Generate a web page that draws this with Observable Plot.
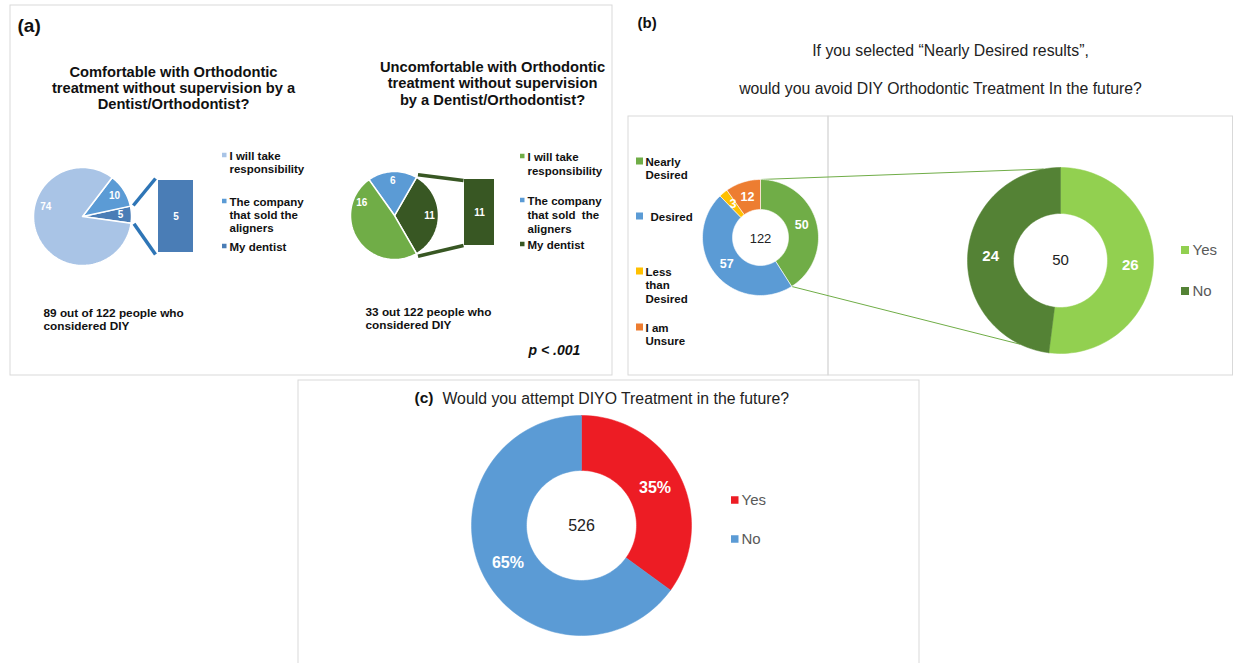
<!DOCTYPE html>
<html><head><meta charset="utf-8">
<script src="https://cdn.jsdelivr.net/npm/d3@7"></script>
<script src="https://cdn.jsdelivr.net/npm/@observablehq/plot@0.6"></script>
<style>body{margin:0;background:#fff;} svg{display:block}</style>
</head><body><div id="chart"></div>
<script>
// ---------- DATA ----------
const aCategories = ["I will take responsibility", "The company that sold the aligners", "My dentist"];
const aLegend1 = ["I will take\nresponsibility", "The company\nthat sold the\naligners", "My dentist"];
const aLegend2 = ["I will take\nresponsibility", "The company\nthat sold  the\naligners", "My dentist"];
const comfortableValues = [74, 10, 5];
const uncomfortableValues = [16, 6, 11];
const comfortableBar = [5];
const uncomfortableBar = [11];
const aTitle1 = "Comfortable with Orthodontic\ntreatment without supervision by a\nDentist/Orthodontist?";
const aTitle2 = "Uncomfortable with Orthodontic\ntreatment without supervision\nby a Dentist/Orthodontist?";
const aNote1 = "89 out of 122 people who\nconsidered DIY";
const aNote2 = "33 out 122 people who\nconsidered DIY";
const pText = "p < .001";

const bTitle = ["If you selected \u201CNearly Desired results\u201D,", "would you avoid DIY Orthodontic Treatment In the future?"];
const bCategories = ["Nearly\nDesired", "Desired", "Less\nthan\nDesired", "I am\nUnsure"];
const bValues = [50, 57, 3, 12];
const bTotal = 122;
const bSubCategories = ["Yes", "No"];
const bSubValues = [26, 24];
const bSubTotal = 50;

const cTitle = "Would you attempt DIYO Treatment in the future?";
const cCategories = ["Yes", "No"];
const cPercents = [35, 65];
const cTotal = 526;

// ---------- STYLE ----------
const FONT = "Liberation Sans, Arial, Helvetica, sans-serif";
const aColors1 = ["#A9C4E6", "#5B9BD5", "#4A7DB6"];
const aColors2 = ["#70AD47", "#5B9BD5", "#385723"];
const bColors = ["#70AD47", "#5B9BD5", "#FFC000", "#ED7D31"];
const bSubColors = ["#92D050", "#548235"];
const cColors = ["#ED1C24", "#5B9BD5"];

// ---------- GEOMETRY HELPERS ----------
const rad = d => d * Math.PI / 180;
function arcPoints(id, color, cx, cy, r0, r1, a0, a1) {
  const pts = [];
  const n = Math.max(6, Math.ceil(Math.abs(a1 - a0) / 2));
  for (let i = 0; i <= n; i++) {
    const a = rad(a0 + (a1 - a0) * i / n);
    pts.push({id, color, x: cx + r1 * Math.sin(a), y: cy - r1 * Math.cos(a)});
  }
  if (r0 > 0) {
    for (let i = n; i >= 0; i--) {
      const a = rad(a0 + (a1 - a0) * i / n);
      pts.push({id, color, x: cx + r0 * Math.sin(a), y: cy - r0 * Math.cos(a)});
    }
  } else pts.push({id, color, x: cx, y: cy});
  pts.push({...pts[0]});
  return pts;
}
function pie(values, colors, o) {
  const total = d3.sum(values);
  const order = o.order || values.map((_, i) => i);
  let a = o.start;
  const polys = [], labels = [], edges = {};
  for (const i of order) {
    const b = a + values[i] / total * 360 * o.dir;
    polys.push(...arcPoints(o.id + i, colors[i], o.cx, o.cy, o.r0, o.r1, a, b));
    const m = (o.labelAngles && o.labelAngles[i] != null) ? o.labelAngles[i] : (a + b) / 2;
    const lr = o.labelR != null ? o.labelR : (o.r0 + o.r1) / 2;
    labels.push({x: o.cx + lr * Math.sin(rad(m)), y: o.cy - lr * Math.cos(rad(m)),
                 text: o.labelText ? o.labelText(values[i]) : String(values[i])});
    edges[i] = [a, b];
    a = b;
  }
  return {polys, labels, edges};
}
const pt = (cx, cy, r, a) => ({x: cx + r * Math.sin(rad(a)), y: cy - r * Math.cos(rad(a))});

// ---------- LAYOUT ----------
const pA1 = pie(comfortableValues, aColors1, {id: "a1", cx: 82, cy: 216, r0: 0, r1: 49, start: 98, dir: -1,
  order: [2, 1, 0], labelR: 38, labelAngles: {0: 285}});
const pA2 = pie(uncomfortableValues, aColors2, {id: "a2", cx: 394, cy: 215, r0: 0, r1: 44, start: 150, dir: -1,
  order: [2, 1, 0], labelR: 35, labelAngles: {0: 291}});
const pB = pie(bValues, bColors, {id: "b", cx: 760, cy: 237, r0: 28, r1: 58, start: 0, dir: 1});
const pB2 = pie(bSubValues, bSubColors, {id: "b2", cx: 1060, cy: 260, r0: 47, r1: 93, start: 0, dir: 1});
const pC = pie(cPercents, cColors, {id: "c", cx: 581, cy: 525, r0: 55, r1: 110, start: 0, dir: 1, labelText: v => v + "%"});

// bar-of-pie stacks
function barStack(values, colors, x1, x2, y1, y2) {
  const total = d3.sum(values);
  let acc = 0;
  return values.map((v, i) => {
    const r = {x1, x2, y1: y1 + acc / total * (y2 - y1), y2: y1 + (acc + v) / total * (y2 - y1), color: colors[i], text: String(v)};
    acc += v; return r;
  });
}
const barA1 = barStack(comfortableBar, [aColors1[2]], 158, 193, 180, 252);
const barA2 = barStack(uncomfortableBar, [aColors2[2]], 464, 494, 179, 245);

// connectors
const e1 = pA1.edges[2], e2 = pA2.edges[2], eb = pB.edges[0];
const linksA1 = [
  {...(p => ({x1: p.x, y1: p.y}))(pt(82, 216, 52, e1[1])), x2: 155, y2: 178},
  {...(p => ({x1: p.x, y1: p.y}))(pt(82, 216, 52, e1[0])), x2: 155, y2: 254}
];
const linksA2 = [
  {...(p => ({x1: p.x, y1: p.y}))(pt(394, 215, 47, e2[1])), x2: 463, y2: 180},
  {...(p => ({x1: p.x, y1: p.y}))(pt(394, 215, 47, e2[0])), x2: 463, y2: 245}
];
const linksB = [
  {x1: pt(760, 237, 58, eb[0]).x, y1: pt(760, 237, 58, eb[0]).y, x2: pt(1060, 260, 93, 349.5).x, y2: pt(1060, 260, 93, 349.5).y},
  {x1: pt(760, 237, 58, eb[1]).x, y1: pt(760, 237, 58, eb[1]).y, x2: pt(1060, 260, 93, 205.8).x, y2: pt(1060, 260, 93, 205.8).y}
];

// boxes
const boxes = [
  {x1: 10, x2: 612, y1: 5, y2: 375},
  {x1: 628, x2: 828, y1: 116, y2: 375},
  {x1: 828, x2: 1232.5, y1: 116, y2: 375},
  {x1: 298, x2: 919, y1: 380, y2: 668}
];

// legends
const legA1 = aLegend1.map((t, i) => ({text: t, color: aColors1[i], x: 229, y: [155, 201, 246][i], lines: t.split("\n").length}));
const legA2 = aLegend2.map((t, i) => ({text: t, color: aColors2[i], x: 527, y: [156, 200, 244][i], lines: t.split("\n").length}));
const legB = bCategories.map((t, i) => ({text: t, color: bColors[i], x: i === 1 ? 650 : 645, y: [161, 216, 271, 327][i], lines: t.split("\n").length}));
const legB2 = bSubCategories.map((t, i) => ({text: t, color: bSubColors[i], x: 1192, y: [250, 291][i]}));
const legC = cCategories.map((t, i) => ({text: t, color: cColors[i], x: 741, y: [500, 539][i]}));

function legendSquares(items, size, gap) {
  return items.map(d => ({x1: d.x - gap - size, x2: d.x - gap, y1: d.y - size / 2, y2: d.y + size / 2, color: d.color}));
}
const lineCenter = (d, lh) => ({...d, yc: d.y + (d.lines - 1) * lh / 2});

const txt = (data, opts) => Plot.text(data, {x: "x", y: "y", text: "text", fontFamily: FONT, lineAnchor: "middle", ...opts});

const chart = Plot.plot({
  width: 1233, height: 663, margin: 0,
  x: {domain: [0, 1233], range: [0, 1233], axis: null},
  y: {domain: [0, 663], range: [0, 663], axis: null},
  color: {type: "identity"},
  style: {fontFamily: FONT, background: "#fff"},
  marks: [
    Plot.rect(boxes, {x1: "x1", x2: "x2", y1: "y1", y2: "y2", fill: "none", stroke: "#d9d9d9", strokeWidth: 1}),
    Plot.link(linksA1, {x1: "x1", y1: "y1", x2: "x2", y2: "y2", stroke: "#2E75B6", strokeWidth: 3.5}),
    Plot.link(linksA2, {x1: "x1", y1: "y1", x2: "x2", y2: "y2", stroke: "#385723", strokeWidth: 3.5}),
    Plot.link(linksB, {x1: "x1", y1: "y1", x2: "x2", y2: "y2", stroke: "#70AD47", strokeWidth: 1}),
    Plot.line(pA1.polys, {x: "x", y: "y", z: "id", fill: "color", stroke: "white", strokeWidth: 1.5, curve: "linear"}),
    Plot.line(pA2.polys, {x: "x", y: "y", z: "id", fill: "color", stroke: "white", strokeWidth: 1.5, curve: "linear"}),
    Plot.line(pB.polys, {x: "x", y: "y", z: "id", fill: "color", stroke: "white", strokeWidth: 0.6, curve: "linear"}),
    Plot.line(pB2.polys, {x: "x", y: "y", z: "id", fill: "color", stroke: "color", strokeWidth: 0.5, curve: "linear"}),
    Plot.line(pC.polys, {x: "x", y: "y", z: "id", fill: "color", stroke: "color", strokeWidth: 0.5, curve: "linear"}),
    Plot.rect(barA1, {x1: "x1", x2: "x2", y1: "y1", y2: "y2", fill: "color"}),
    Plot.rect(barA2, {x1: "x1", x2: "x2", y1: "y1", y2: "y2", fill: "color"}),
    // legend squares
    Plot.rect(legendSquares(legA1, 4.5, 2.5), {x1: "x1", x2: "x2", y1: "y1", y2: "y2", fill: "color"}),
    Plot.rect(legendSquares(legA2, 4.5, 2.5), {x1: "x1", x2: "x2", y1: "y1", y2: "y2", fill: "color"}),
    Plot.rect(legendSquares(legB.map((d, i) => ({...d, x: 645})), 7, 2), {x1: "x1", x2: "x2", y1: "y1", y2: "y2", fill: "color"}),
    Plot.rect(legendSquares(legB2, 8, 3), {x1: "x1", x2: "x2", y1: "y1", y2: "y2", fill: "color"}),
    Plot.rect(legendSquares(legC, 7.5, 2.5), {x1: "x1", x2: "x2", y1: "y1", y2: "y2", fill: "color"}),
    // slice labels
    txt(pA1.labels, {fill: "white", fontWeight: "bold", fontSize: 10}),
    txt(pA2.labels, {fill: "white", fontWeight: "bold", fontSize: 10}),
    txt(barA1.map(d => ({x: (d.x1 + d.x2) / 2, y: (d.y1 + d.y2) / 2, text: d.text})), {fill: "white", fontWeight: "bold", fontSize: 10}),
    txt(barA2.map(d => ({x: (d.x1 + d.x2) / 2, y: (d.y1 + d.y2) / 2, text: d.text})), {fill: "white", fontWeight: "bold", fontSize: 10}),
    txt(pB.labels, {fill: "white", fontWeight: "bold", fontSize: 12.5}),
    txt(pB2.labels, {fill: "white", fontWeight: "bold", fontSize: 15}),
    txt(pC.labels, {fill: "white", fontWeight: "bold", fontSize: 16}),
    txt([{x: 760, y: 238, text: String(bTotal)}], {fill: "#222", fontSize: 13}),
    txt([{x: 1060, y: 260, text: String(bSubTotal)}], {fill: "#222", fontSize: 15}),
    txt([{x: 581, y: 525, text: String(cTotal)}], {fill: "#222", fontSize: 16}),
    // panel (a) text
    txt([{x: 17, y: 25, text: "(a)"}], {textAnchor: "start", fontWeight: "bold", fontSize: 19, fill: "#111"}),
    txt([{x: 173, y: 87, text: aTitle1}], {fontWeight: "bold", fontSize: 14.7, lineHeight: 1.1, fill: "#111"}),
    txt([{x: 492, y: 82.5, text: aTitle2}], {fontWeight: "bold", fontSize: 14.7, lineHeight: 1.12, fill: "#111"}),
    txt(legA1.map(d => lineCenter(d, 13.3)), {y: "yc", textAnchor: "start", fontWeight: "bold", fontSize: 11.5, lineHeight: 1.16, fill: "#111"}),
    txt(legA2.map(d => lineCenter(d, 14)), {y: "yc", textAnchor: "start", fontWeight: "bold", fontSize: 11.5, lineHeight: 1.22, fill: "#111"}),
    txt([{x: 43, y: 318.5, text: aNote1}], {textAnchor: "start", fontWeight: "bold", fontSize: 11.8, lineHeight: 1.14, fill: "#111"}),
    txt([{x: 365, y: 317.5, text: aNote2}], {textAnchor: "start", fontWeight: "bold", fontSize: 11.8, lineHeight: 1.14, fill: "#111"}),
    txt([{x: 528, y: 350, text: pText}], {textAnchor: "start", fontWeight: "bold", fontStyle: "italic", fontSize: 14, fill: "#111"}),
    // panel (b) text
    txt([{x: 637, y: 23, text: "(b)"}], {textAnchor: "start", fontWeight: "bold", fontSize: 15, fill: "#111"}),
    txt([{x: 950, y: 50, text: bTitle[0]}, {x: 940, y: 88, text: bTitle[1]}], {fontSize: 15.8, fill: "#222"}),
    txt(legB.map(d => lineCenter(d, 13.5)), {y: "yc", textAnchor: "start", fontWeight: "bold", fontSize: 11.5, lineHeight: 1.17, fill: "#111"}),
    txt(legB2, {textAnchor: "start", fontSize: 15, fill: "#595959"}),
    // panel (c) text
    txt([{x: 414, y: 398, text: "(c)"}], {textAnchor: "start", fontWeight: "bold", fontSize: 15.5, fill: "#111"}),
    txt([{x: 442, y: 398, text: cTitle}], {textAnchor: "start", fontSize: 15.8, fill: "#222"}),
    txt(legC, {textAnchor: "start", fontSize: 15, fill: "#595959"})
  ]
});
document.getElementById("chart").appendChild(chart);
</script>
</body></html>
